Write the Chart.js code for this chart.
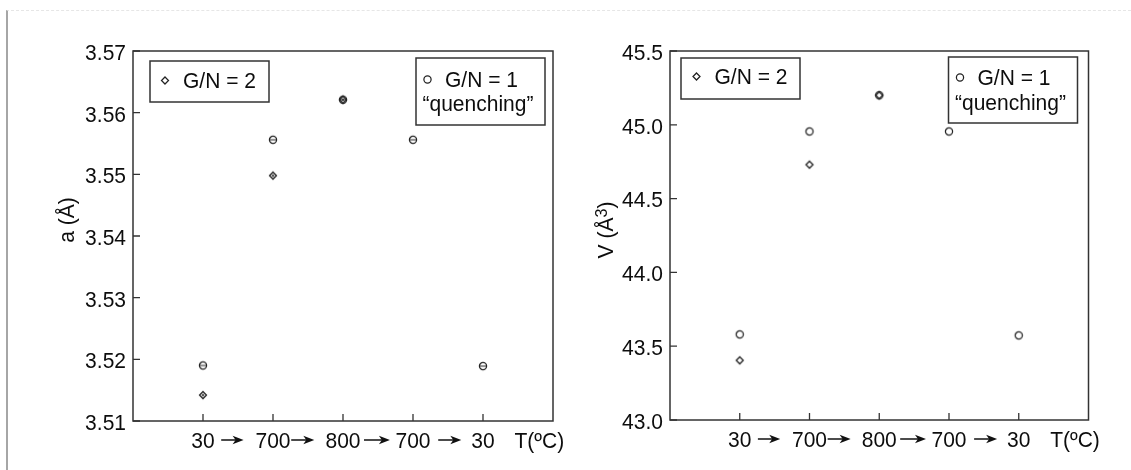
<!DOCTYPE html>
<html>
<head>
<meta charset="utf-8">
<script src="https://cdn.jsdelivr.net/npm/chart.js@4.4.1/dist/chart.umd.min.js"></script>
<style>
  html, body { margin: 0; padding: 0; background: #fff; }
  body { width: 1131px; height: 470px; position: relative; overflow: hidden; }
  #frame { position: absolute; left: 6px; top: 10px; right: 0; bottom: 0;
           border-left: 2px solid #a6a6a6; border-top: 1px dashed #e6e6e6; }
  #left { position: absolute; left: 0; top: 0; }
  #right { position: absolute; left: 580px; top: 0; }
</style>
</head>
<body>
<div id="frame"></div>
<canvas id="left" width="580" height="470"></canvas>
<canvas id="right" width="551" height="470"></canvas>
<script>
// heating / cooling sequence along the x axis
const steps = ['30', '700', '800', '700', '30'];

// lattice parameter a (Å)
const aQuench = [3.5190, 3.5556, 3.5621, 3.5556, 3.5189];
const aRatio2 = [3.5142, 3.5498, 3.5621];
const aTicks = [3.51, 3.52, 3.53, 3.54, 3.55, 3.56, 3.57];

// cell volume V (Å^3)
const vQuench = [43.580, 44.955, 45.200, 44.955, 43.573];
const vRatio2 = [43.404, 44.730, 45.200];
const vTicks = [43.0, 43.5, 44.0, 44.5, 45.0, 45.5];

const legendRatio2 = 'G/N = 2';
const legendQuench = ['G/N = 1', '\u201Cquenching\u201D'];
const tempUnit = 'T(\u00BAC)';

const FONT = 'Arial, "Liberation Sans", sans-serif';
const SIZE = 22;
const SQUEEZE = 0.955;   // slightly condensed lettering
const INK = '#222';
const TEXT = '#0d0d0d';

// where each arrow sits between two ticks, as a fraction of the tick gap
const arrowSpans = [[0.26, 0.58], [0.26, 0.59], [0.30, 0.67], [0.36, 0.69]];

function toPoints(values) {
  return values.map((y, i) => ({ x: i, y: y }));
}

// text drawn with its vertical cap centre at y
function label(ctx, text, x, y, align, size) {
  size = size || SIZE;
  ctx.save();
  ctx.translate(x, y + 0.358 * size);
  ctx.scale(SQUEEZE, 1);
  ctx.font = size + 'px ' + FONT;
  ctx.textAlign = align;
  ctx.textBaseline = 'alphabetic';
  ctx.fillStyle = TEXT;
  ctx.fillText(text, 0, 0);
  ctx.restore();
}

function shapePath(g, kind, cx, cy, r) {
  g.beginPath();
  if (kind === 'circle') {
    g.arc(cx, cy, r, 0, Math.PI * 2);
  } else {
    g.moveTo(cx, cy - r);
    g.lineTo(cx + r, cy);
    g.lineTo(cx, cy + r);
    g.lineTo(cx - r, cy);
    g.closePath();
  }
}

// small marker bitmaps used as point styles
function marker(kind, inner) {
  const c = document.createElement('canvas');
  c.width = 12; c.height = 12;
  const g = c.getContext('2d');
  g.strokeStyle = INK;
  g.lineWidth = 1.25;
  shapePath(g, kind, 6, 6, kind === 'circle' ? 3.6 : 3.5);
  g.stroke();
  if (inner) {
    g.beginPath();
    if (kind === 'circle') {
      g.moveTo(2.8, 6); g.lineTo(9.2, 6);
    } else {
      g.moveTo(4.6, 6); g.lineTo(7.4, 6);
      g.moveTo(6, 4.6); g.lineTo(6, 7.4);
    }
    g.lineWidth = 1;
    g.stroke();
  }
  return c;
}

function drawArrow(ctx, x1, x2, y) {
  ctx.beginPath();
  ctx.moveTo(x1, y);
  ctx.lineTo(x2 - 6, y);
  ctx.lineWidth = 1.5;
  ctx.stroke();
  ctx.beginPath();
  ctx.moveTo(x2, y);
  ctx.lineTo(x2 - 11, y - 4.2);
  ctx.lineTo(x2 - 8, y);
  ctx.lineTo(x2 - 11, y + 4.2);
  ctx.closePath();
  ctx.fill();
}

const panelDecor = {
  id: 'panelDecor',
  afterDraw(chart, args, o) {
    const ctx = chart.ctx;
    const ca = chart.chartArea;
    const xs = chart.scales.x, ys = chart.scales.y;
    ctx.save();
    ctx.strokeStyle = '#333';

    // plot frame
    ctx.lineWidth = 1.5;
    ctx.strokeRect(ca.left, ca.top, ca.right - ca.left, ca.bottom - ca.top);

    // inward tick marks
    ctx.beginPath();
    ys.ticks.forEach(t => {
      const y = ys.getPixelForValue(t.value);
      ctx.moveTo(ca.left, y); ctx.lineTo(ca.left + 7, y);
    });
    xs.ticks.forEach(t => {
      const x = xs.getPixelForValue(t.value);
      ctx.moveTo(x, ca.bottom); ctx.lineTo(x, ca.bottom - 7);
    });
    ctx.lineWidth = 1.3;
    ctx.stroke();

    // tick labels
    ys.ticks.forEach(t => {
      label(ctx, t.value.toFixed(o.digits), ca.left - 7, ys.getPixelForValue(t.value) + 1, 'right');
    });
    const midY = ca.bottom + 19;
    xs.ticks.forEach((t, i) => {
      label(ctx, steps[i], xs.getPixelForValue(t.value), midY + 0.5, 'center');
    });

    // arrows between the temperature steps and the unit label
    const gap = xs.getPixelForValue(1) - xs.getPixelForValue(0);
    ctx.fillStyle = '#111';
    ctx.strokeStyle = '#111';
    arrowSpans.forEach((s, i) => {
      const x0 = xs.getPixelForValue(i);
      drawArrow(ctx, x0 + s[0] * gap, x0 + s[1] * gap, midY);
    });
    label(ctx, tempUnit, xs.getPixelForValue(steps.length - 1) + 0.45 * gap, midY + 0.5, 'left');

    // legend boxes
    o.boxes.forEach(b => {
      const bx = b.left !== undefined ? ca.left + b.left : ca.right - b.right - b.w;
      const by = ca.top + b.top;
      ctx.lineWidth = 1.5;
      ctx.strokeStyle = '#333';
      ctx.strokeRect(bx, by, b.w, b.h);
      ctx.strokeStyle = INK;
      ctx.lineWidth = 1.25;
      shapePath(ctx, b.kind, bx + b.mx, by + b.my, b.kind === 'circle' ? 3.6 : 3.5);
      ctx.stroke();
      b.lines.forEach(ln => label(ctx, ln[0], bx + ln[1], by + ln[2], 'left'));
    });

    // rotated y axis title
    ctx.translate(o.titleX, o.titleY);
    ctx.rotate(-Math.PI / 2);
    ctx.scale(SQUEEZE, 1);
    ctx.fillStyle = TEXT;
    ctx.textAlign = 'left';
    ctx.textBaseline = 'alphabetic';
    let total = 0;
    o.title.forEach(p => { ctx.font = p.size + 'px ' + FONT; total += ctx.measureText(p.text).width; });
    let x = -total / 2;
    o.title.forEach(p => {
      ctx.font = p.size + 'px ' + FONT;
      ctx.fillText(p.text, x, -p.rise);
      x += ctx.measureText(p.text).width;
    });
    ctx.restore();
  }
};

function buildPanel(id, cfg) {
  const yMin = cfg.ticks[0], yMax = cfg.ticks[cfg.ticks.length - 1];
  return new Chart(document.getElementById(id), {
    type: 'scatter',
    data: {
      datasets: [
        { label: legendQuench.join(' '), data: toPoints(cfg.quench),
          pointStyle: cfg.circle, pointRadius: 4, borderColor: INK, backgroundColor: 'transparent' },
        { label: legendRatio2, data: toPoints(cfg.ratio2),
          pointStyle: cfg.diamond, pointRadius: 4, borderColor: INK, backgroundColor: 'transparent' }
      ]
    },
    options: {
      responsive: false,
      animation: false,
      devicePixelRatio: 1,
      layout: { padding: { left: 0, top: 51, right: cfg.padRight, bottom: 0 } },
      plugins: {
        legend: { display: false },
        tooltip: { enabled: false },
        panelDecor: cfg.decor
      },
      scales: {
        x: {
          type: 'linear', min: -1, max: 5,
          afterBuildTicks: s => { s.ticks = steps.map((_, i) => ({ value: i })); },
          afterFit: s => { s.height = cfg.xHeight; },
          grid: { display: false, drawTicks: false },
          border: { display: false },
          ticks: { display: false }
        },
        y: {
          min: yMin, max: yMax,
          afterBuildTicks: s => { s.ticks = cfg.ticks.map(v => ({ value: v })); },
          afterFit: s => { s.width = cfg.yWidth; },
          grid: { display: false, drawTicks: false },
          border: { display: false },
          ticks: { display: false }
        }
      }
    },
    plugins: [panelDecor]
  });
}

buildPanel('left', {
  quench: aQuench, ratio2: aRatio2, ticks: aTicks,
  circle: marker('circle', true), diamond: marker('diamond', true),
  yWidth: 133, xHeight: 49, padRight: 27,
  decor: {
    digits: 2,
    titleX: 74, titleY: 220,
    title: [{ text: 'a (\u00C5)', size: SIZE, rise: 0 }],
    boxes: [
      { left: 17, top: 10, w: 119, h: 41, kind: 'diamond', mx: 15, my: 19.5,
        lines: [[legendRatio2, 33, 19.5]] },
      { right: 8, top: 7, w: 129, h: 67, kind: 'circle', mx: 11.5, my: 21.5,
        lines: [[legendQuench[0], 29, 21.5], [legendQuench[1], 6.5, 45.5]] }
    ]
  }
});

buildPanel('right', {
  quench: vQuench, ratio2: vRatio2, ticks: vTicks,
  circle: marker('circle', false), diamond: marker('diamond', false),
  yWidth: 90, xHeight: 50, padRight: 42.5,
  decor: {
    digits: 1,
    titleX: 33, titleY: 230,
    title: [{ text: 'V (\u00C5', size: SIZE, rise: 0 }, { text: '3', size: 17, rise: 6 },
            { text: ')', size: SIZE, rise: 0 }],
    boxes: [
      { left: 11, top: 7, w: 119, h: 41, kind: 'diamond', mx: 15.5, my: 18.5,
        lines: [[legendRatio2, 33.5, 18.5]] },
      { right: 11, top: 6, w: 129, h: 66, kind: 'circle', mx: 11.5, my: 20.5,
        lines: [[legendQuench[0], 29, 20.5], [legendQuench[1], 6.5, 45.5]] }
    ]
  }
});
</script>
</body>
</html>
